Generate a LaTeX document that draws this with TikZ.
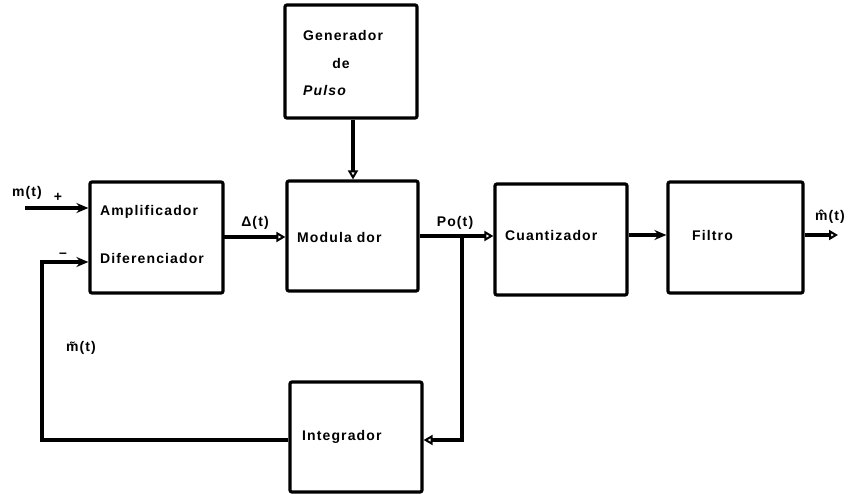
\documentclass[tikz,border=0pt]{standalone}
\usepackage{fontspec}
\setmainfont{Liberation Sans}[LetterSpace=8]
\usetikzlibrary{arrows.meta}
\begin{document}
\begin{tikzpicture}[x=1pt,y=-1pt,
  blk/.style={draw,line width=3.2pt,rounded corners=2pt,inner sep=0pt},
  lbl/.style={font=\fontsize{14}{16}\selectfont\bfseries,inner sep=0pt},
  wire/.style={line width=3.2pt},
  fa/.style={wire,-{Stealth[length=12pt,width=10pt]}},
  oa/.style={wire,-{Triangle[open,length=9pt,width=10pt,line width=2pt]}}]
\useasboundingbox (0,0) rectangle (852,494);
% blocks
\node[blk,minimum width=133pt,minimum height=111pt] (amp) at (156.5,237.5) {};
\node[blk,minimum width=132pt,minimum height=113pt] (gen) at (351,61.5) {};
\node[blk,minimum width=131pt,minimum height=110pt] (mod) at (352.5,236) {};
\node[blk,minimum width=132pt,minimum height=111pt] (cuan) at (561,239.5) {};
\node[blk,minimum width=135pt,minimum height=111pt] (fil) at (735.5,237.5) {};
\node[blk,minimum width=132pt,minimum height=110pt] (int) at (356,437) {};
% texts
\node[lbl,anchor=west] (tamp) at (100,212) {Amplificador};
\node[lbl,anchor=west] (tdif) at (100,258) {Diferenciador};
\node[lbl,anchor=west] (tgen) at (303,35) {Generador};
\node[lbl] (tde) at (341,63) {de};
\node[lbl,anchor=west] (tpul) at (303,90) {\itshape Pulso};
\node[lbl,anchor=west] (tmod) at (297,237) {Modula dor};
\node[lbl,anchor=west] (tcua) at (505,235) {Cuantizador};
\node[lbl,anchor=west] (tfil) at (692,235) {Filtro};
\node[lbl,anchor=west] (tint) at (302,437) {Integrador};
% signal labels
\node[lbl] (lm) at (27,193) {m(t)};
\node[lbl] (lplus) at (58,197) {+};
\node[lbl] (lminus) at (63,255) {–};
\node[lbl] (ldel) at (255,223) {Δ(t)};
\node[lbl] (lpo) at (455,223) {Po(t)};
\node[lbl] (lmh) at (830,217) {\^{m}(t)};
\node[lbl] (lmt) at (81,348) {\~{m}(t)};
% coordinates
\coordinate (in1) at (25,208);
\coordinate (fbin) at (42,262);
\coordinate (fbl) at (42,440);
\coordinate (dl) at (223,237);
\coordinate (br) at (462,236);
\coordinate (gx) at (353,0);
\coordinate (fo) at (838,235);
% connectors
\draw[fa] (in1) -- (in1 -| amp.west);
\draw[fa] (int.west |- fbl) -- (fbl) -- (fbin) -- (fbin -| amp.west);
\draw[oa] (dl) -- (dl -| mod.west);
\draw[oa] (gx |- gen.south) -- (gx |- mod.north);
\draw[oa] (br -| mod.east) -- (br -| cuan.west);
\draw[oa] (br) -- (br |- fbl) -- (int.east |- fbl);
\draw[fa] (fo -| cuan.east) -- (fo -| fil.west);
\draw[oa] (fo -| fil.east) -- (fo);
\end{tikzpicture}
\end{document}
